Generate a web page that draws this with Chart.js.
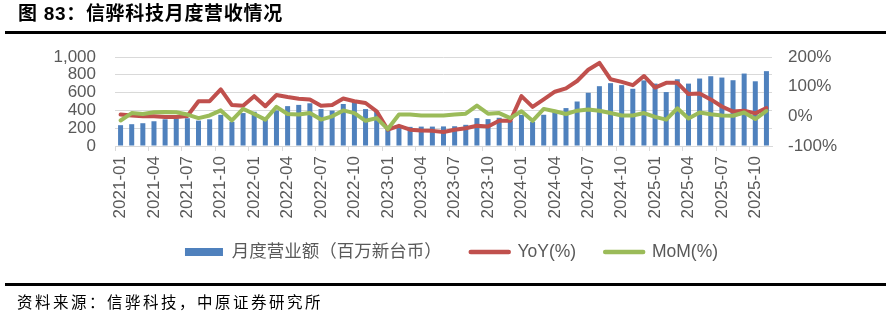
<!DOCTYPE html>
<html>
<head>
<meta charset="utf-8">
<script src="https://cdn.jsdelivr.net/npm/chart.js@4.4.0/dist/chart.umd.min.js"></script>
<style>
html,body{margin:0;padding:0;background:#fff;width:889px;height:315px;overflow:hidden;}
#wrap{position:relative;width:889px;height:315px;}
#c{position:absolute;left:0;top:0;}
.title{position:absolute;left:18px;top:1px;font-family:'Liberation Sans','Noto Sans CJK SC',sans-serif;font-weight:bold;font-size:19px;line-height:26px;letter-spacing:0.7px;color:#000;white-space:nowrap;}
.rule{position:absolute;left:5px;width:881px;height:3px;background:#000;}
.src{position:absolute;left:17px;top:289px;font-family:'Noto Sans CJK SC',sans-serif;font-size:15.5px;line-height:24px;letter-spacing:2.5px;color:#000;white-space:nowrap;}
</style>
</head>
<body>
<div id="wrap">
  <canvas id="c" width="889" height="315"></canvas>
  <div class="title">图 83：信骅科技月度营收情况</div>
  <div class="rule" style="top:31px"></div>
  <div class="rule" style="top:283px"></div>
  <div class="src">资料来源：信骅科技，中原证券研究所</div>
</div>
<script>
// ---- data ----
const months = [
  '2021-01','2021-02','2021-03','2021-04','2021-05','2021-06','2021-07','2021-08','2021-09','2021-10','2021-11','2021-12',
  '2022-01','2022-02','2022-03','2022-04','2022-05','2022-06','2022-07','2022-08','2022-09','2022-10','2022-11','2022-12',
  '2023-01','2023-02','2023-03','2023-04','2023-05','2023-06','2023-07','2023-08','2023-09','2023-10','2023-11','2023-12',
  '2024-01','2024-02','2024-03','2024-04','2024-05','2024-06','2024-07','2024-08','2024-09','2024-10','2024-11','2024-12',
  '2025-01','2025-02','2025-03','2025-04','2025-05','2025-06','2025-07','2025-08','2025-09','2025-10','2025-11'
];
// 月度营业额（百万新台币）
const revenue = [
  234,245,256,278,300,312,312,285,300,350,272,370,
  385,300,400,448,462,480,415,398,472,508,415,385,
  185,210,215,218,218,220,222,238,313,302,317,280,
  350,271,351,403,426,500,598,672,706,684,643,737,
  701,606,750,701,758,784,769,739,814,727,841
];
// YoY (%)
const yoy = [
  6,3,0,0,-2,-2,1,51,51,91,38,36,
  68,34,72,65,59,57,36,38,60,51,45,17,
  -45,-32,-45,-48,-49,-53,-45,-40,-32,-34,-15,-15,
  68,32,57,83,94,119,157,180,125,116,105,136,
  97,113,113,75,77,57,33,16,19,10,28
];
// MoM (%)
const mom = [
  -14,11,8,14,15,14,6,-6,3,20,-14,25,
  8,-11,32,8,6,11,-11,0,20,11,-15,-6,
  -43,6,6,3,3,3,6,9,36,9,11,-6,
  17,-15,25,17,8,19,23,19,11,3,3,11,
  -2,-11,27,-7,13,7,3,2,13,-9,18
];
const leftTicks = [0,200,400,600,800,1000];
const rightTicks = [-100,0,100,200];
const seriesNames = ['月度营业额（百万新台币）','YoY(%)','MoM(%)'];

// ---- styling ----
const BLUE = '#4F81BD', RED = '#C0504D', GREEN = '#9BBB59';
const GRID = '#D9D9D9', TXT = '#595959';
const PAD_L = 14;
const PLOT_L = 115, PLOT_R = 772, PLOT_T = 57, PLOT_B = 146;
const X_H = 78;
const LEGEND_PAD = 29;
const LEGEND_FONT = 17.5;
const LEGEND_TEXT_Y = 252;

const legendShift = {
  id:'legendShift',
  afterLayout(chart){
    const lg = chart.legend;
    if (!lg) return;
    const cur = lg.top + LEGEND_PAD + LEGEND_FONT/2;
    const d = cur - LEGEND_TEXT_Y;
    lg.top -= d; lg.bottom -= d;
  }
};

new Chart(document.getElementById('c'), {
  data: {
    labels: months,
    datasets: [
      {type:'bar', label: seriesNames[0], data: revenue, backgroundColor: BLUE, yAxisID:'y',
       barPercentage:0.45, categoryPercentage:1.0, order:3},
      {type:'line', label: seriesNames[1], data: yoy, borderColor: RED, backgroundColor: RED, yAxisID:'y1',
       borderWidth:4, pointRadius:0, tension:0, borderJoinStyle:'round', borderCapStyle:'round', order:2},
      {type:'line', label: seriesNames[2], data: mom, borderColor: GREEN, backgroundColor: GREEN, yAxisID:'y1',
       borderWidth:4, pointRadius:0, tension:0, borderJoinStyle:'round', borderCapStyle:'round', order:1}
    ]
  },
  plugins:[legendShift],
  options: {
    responsive:false, animation:false, devicePixelRatio:1,
    layout:{padding:{left:PAD_L, right:0, top:PLOT_T, bottom:315 - PLOT_B - X_H - (LEGEND_FONT + LEGEND_PAD + 10)}},
    plugins:{
      tooltip:{enabled:false},
      legend:{
        display:true, position:'bottom',
        labels:{
          usePointStyle:true, pointStyleWidth:38, boxHeight:8, padding:LEGEND_PAD,
          color:TXT, font:{family:"'Liberation Sans','Noto Sans CJK SC'", size:LEGEND_FONT},
          generateLabels:(chart)=>chart.data.datasets.map((ds,i)=>({
            text: ds.label, datasetIndex:i, hidden:false,
            fillStyle: ds.type==='bar' ? ds.backgroundColor : ds.borderColor,
            strokeStyle: ds.type==='bar' ? ds.backgroundColor : ds.borderColor,
            lineWidth: ds.type==='bar' ? 0 : 4.5,
            lineCap:'round',
            pointStyle: ds.type==='bar' ? 'rect' : 'line',
            fontColor: TXT
          }))
        }
      }
    },
    scales:{
      x:{
        type:'category', offset:true,
        afterFit:(s)=>{ s.height = X_H; },
        grid:{display:true, drawOnChartArea:false, drawTicks:true, tickLength:5, offset:true,
              color:(ctx)=> (ctx.index % 3 === 0) ? GRID : 'rgba(0,0,0,0)'},
        border:{display:true, color:GRID, width:1},
        ticks:{autoSkip:false, maxRotation:90, minRotation:90, padding:5, color:TXT,
               font:{family:"'Liberation Sans'", size:17},
               callback:(v,i)=> (i % 3 === 0) ? months[i] : ''}
      },
      y:{
        position:'left', min:0, max:1000,
        afterFit:(s)=>{ s.width = PLOT_L - PAD_L; },
        afterBuildTicks:(s)=>{ s.ticks = leftTicks.map(v=>({value:v})); },
        grid:{color:GRID, lineWidth:1, drawTicks:false},
        border:{display:false},
        ticks:{autoSkip:false, padding:19, color:TXT, font:{family:"'Liberation Sans'", size:17},
               callback:(v)=> v.toLocaleString('en-US')}
      },
      y1:{
        position:'right', min:-100, max:200,
        afterFit:(s)=>{ s.width = 889 - PLOT_R; },
        afterBuildTicks:(s)=>{ s.ticks = rightTicks.map(v=>({value:v})); },
        grid:{drawOnChartArea:false, drawTicks:false},
        border:{display:false},
        ticks:{autoSkip:false, padding:16, color:TXT, font:{family:"'Liberation Sans'", size:17},
               callback:(v)=> v + '%'}
      }
    }
  }
});
</script>
</body>
</html>
